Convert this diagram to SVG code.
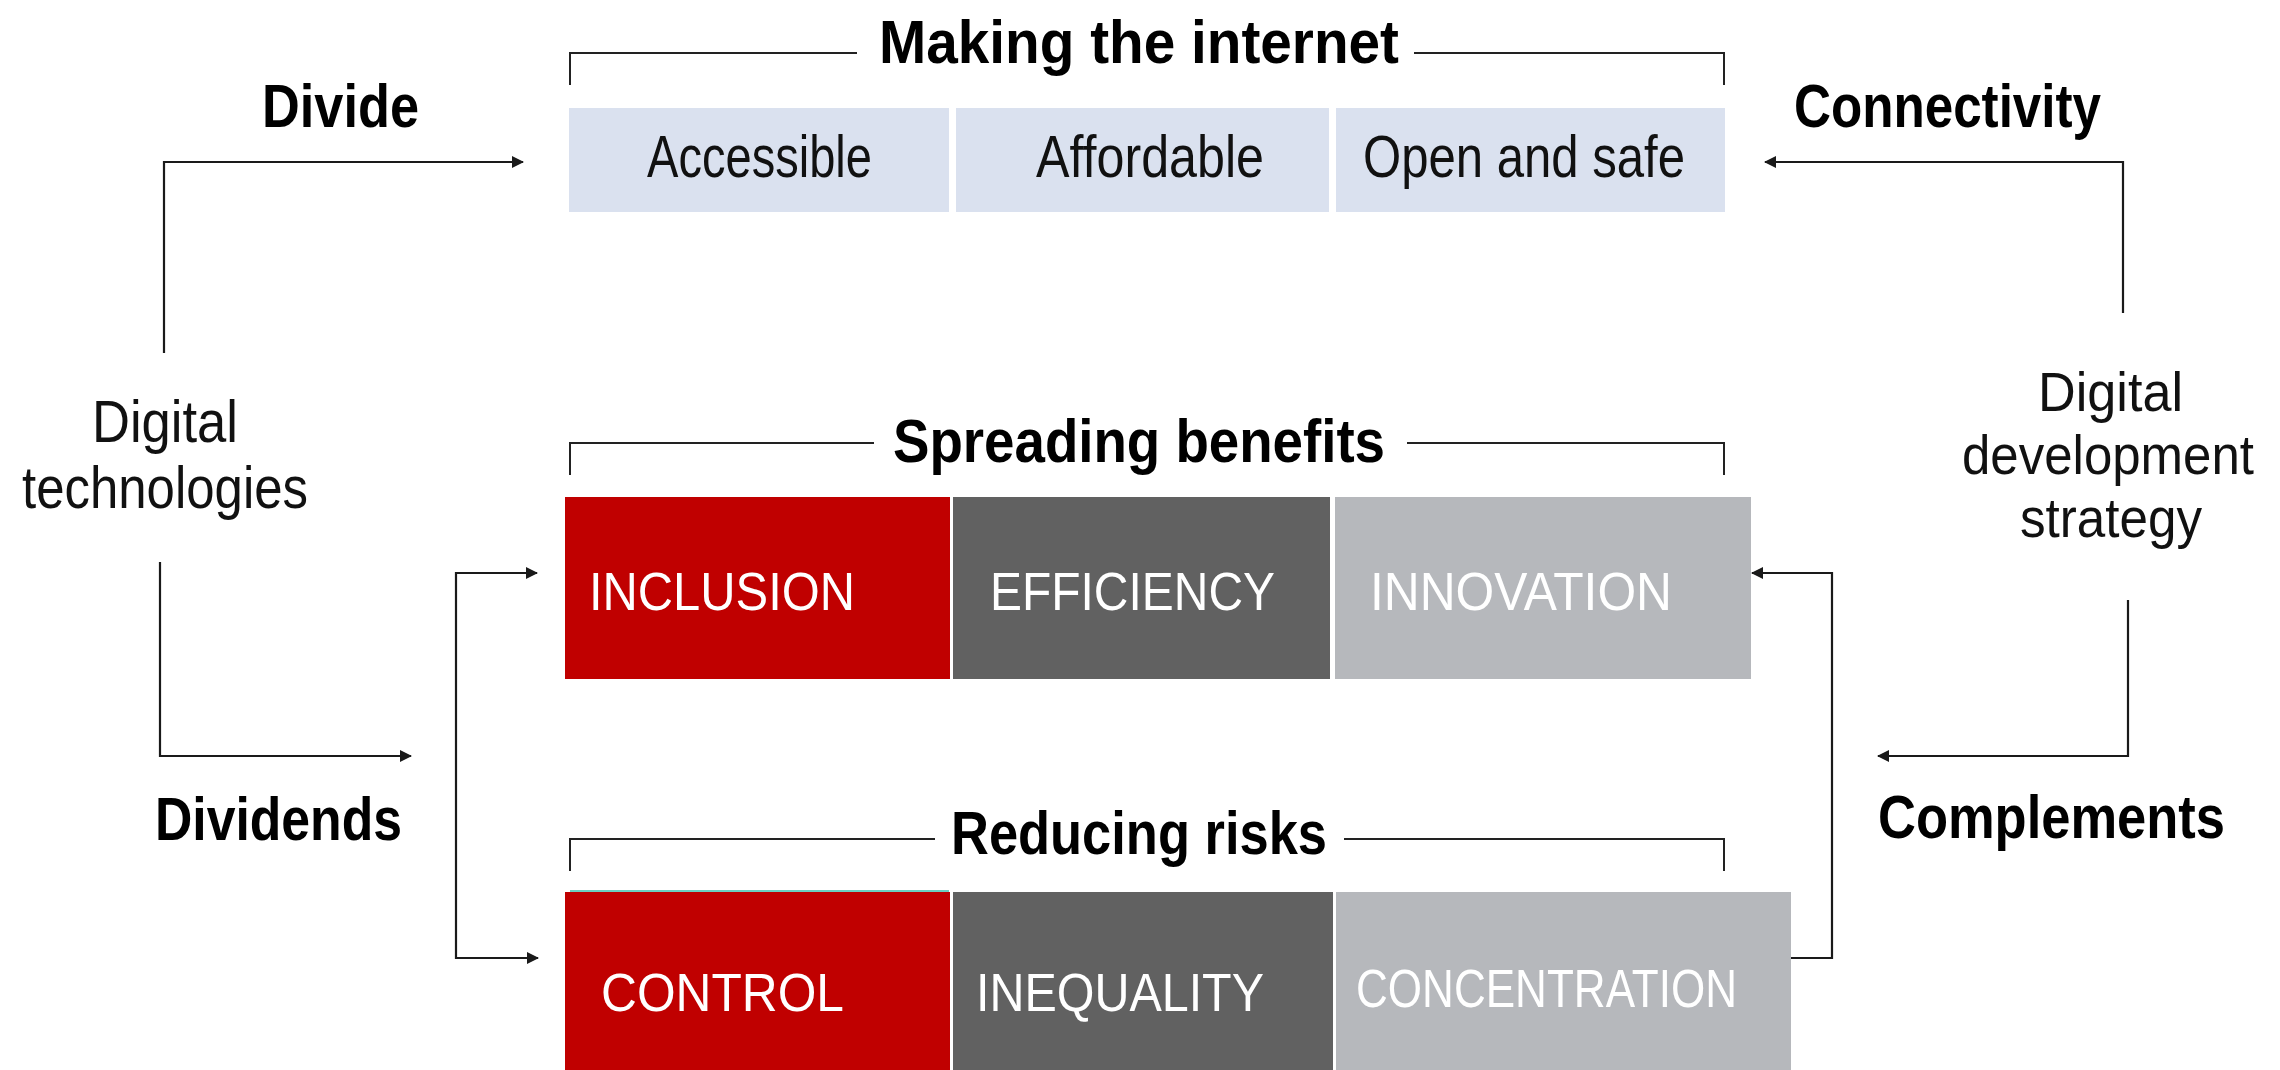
<svg xmlns="http://www.w3.org/2000/svg" width="2280" height="1070" viewBox="0 0 2280 1070">
<style>
.bold{font-family:"Liberation Sans",Arial,sans-serif;font-weight:bold;font-size:61px;fill:#000}
.reg{font-family:"Liberation Sans",Arial,sans-serif;font-size:60px;fill:#111}
.rs{font-family:"Liberation Sans",Arial,sans-serif;font-size:56px;fill:#111}
.wt{font-family:"Liberation Sans",Arial,sans-serif;font-size:53px;fill:#fff}
.blue{fill:#dae1ef}
.red{fill:#c00000}
.dark{fill:#616161}
.light{fill:#b6b8bc}
.line{fill:none;stroke:#1a1a1a;stroke-width:2.2}
.brk{fill:none;stroke:#222;stroke-width:2}
</style>
<defs>
<marker id="ah" viewBox="0 0 12 12" refX="11" refY="6" markerWidth="12" markerHeight="12" markerUnits="userSpaceOnUse" orient="auto-start-reverse">
<path d="M0,0 L12,6 L0,12 Z" fill="#1a1a1a"/>
</marker>
</defs>
<rect width="2280" height="1070" fill="#fff"/>

<g id="making-the-internet">
<path class="brk" d="M570,85 V53 H857 M1414,53 H1724 V85"/>
<text class="bold" x="879" y="63" textLength="520" lengthAdjust="spacingAndGlyphs">Making the internet</text>
</g>
<g id="accessible"><rect class="blue" x="569" y="108" width="380" height="104"/><text class="reg" x="647" y="177" textLength="225" lengthAdjust="spacingAndGlyphs">Accessible</text></g>
<g id="affordable"><rect class="blue" x="956" y="108" width="373" height="104"/><text class="reg" x="1036" y="177" textLength="228" lengthAdjust="spacingAndGlyphs">Affordable</text></g>
<g id="open-and-safe"><rect class="blue" x="1336" y="108" width="389" height="104"/><text class="reg" x="1363" y="177" textLength="322" lengthAdjust="spacingAndGlyphs">Open and safe</text></g>

<g id="spreading-benefits">
<path class="brk" d="M570,475 V443 H874 M1407,443 H1724 V475"/>
<text class="bold" x="893" y="462" textLength="492" lengthAdjust="spacingAndGlyphs">Spreading benefits</text>
</g>
<g id="inclusion"><rect class="red" x="565" y="497" width="385" height="182"/><text class="wt" x="589" y="610" textLength="266" lengthAdjust="spacingAndGlyphs">INCLUSION</text></g>
<g id="efficiency"><rect class="dark" x="953" y="497" width="377" height="182"/><text class="wt" x="990" y="610" textLength="285" lengthAdjust="spacingAndGlyphs">EFFICIENCY</text></g>
<g id="innovation"><rect class="light" x="1335" y="497" width="416" height="182"/><text class="wt" x="1370" y="610" textLength="302" lengthAdjust="spacingAndGlyphs">INNOVATION</text></g>

<g id="reducing-risks">
<path class="brk" d="M570,871 V839 H935 M1344,839 H1724 V871"/>
<text class="bold" x="951" y="854" textLength="376" lengthAdjust="spacingAndGlyphs">Reducing risks</text>
</g>
<g id="control"><rect class="red" x="565" y="892" width="385" height="178"/><rect x="570" y="890" width="379" height="2" fill="#6ccfc0"/><text class="wt" x="601" y="1011" font-size="54" textLength="243" lengthAdjust="spacingAndGlyphs">CONTROL</text></g>
<g id="inequality"><rect class="dark" x="953" y="892" width="380" height="178"/><text class="wt" x="976" y="1011" font-size="54" textLength="288" lengthAdjust="spacingAndGlyphs">INEQUALITY</text></g>
<g id="concentration"><rect class="light" x="1336" y="892" width="455" height="178"/><text class="wt" x="1356" y="1007" font-size="48" textLength="381" lengthAdjust="spacingAndGlyphs">CONCENTRATION</text></g>

<g id="digital-technologies">
<text class="reg" x="92" y="442" textLength="146" lengthAdjust="spacingAndGlyphs">Digital</text>
<text class="reg" x="22" y="508" textLength="286" lengthAdjust="spacingAndGlyphs">technologies</text>
</g>
<g id="digital-development-strategy">
<text class="rs" x="2038" y="411" textLength="145" lengthAdjust="spacingAndGlyphs">Digital</text>
<text class="rs" x="1962" y="474" textLength="292" lengthAdjust="spacingAndGlyphs">development</text>
<text class="rs" x="2020" y="537" textLength="182" lengthAdjust="spacingAndGlyphs">strategy</text>
</g>

<g id="connectors">
<path class="line" d="M164,353 V162 H523" marker-end="url(#ah)"/>
<path class="line" d="M2123,313 V162 H1765" marker-end="url(#ah)"/>
<path class="line" d="M160,562 V756 H411" marker-end="url(#ah)"/>
<path class="line" d="M537,573 H456 V958 H538" marker-start="url(#ah)" marker-end="url(#ah)"/>
<path class="line" d="M1791,958 H1832 V573 H1752" marker-end="url(#ah)"/>
<path class="line" d="M2128,600 V756 H1878" marker-end="url(#ah)"/>
<text class="bold" x="262" y="127" textLength="157" lengthAdjust="spacingAndGlyphs">Divide</text>
<text class="bold" x="1794" y="127" textLength="307" lengthAdjust="spacingAndGlyphs">Connectivity</text>
<text class="bold" x="155" y="840" textLength="247" lengthAdjust="spacingAndGlyphs">Dividends</text>
<text class="bold" x="1878" y="838" textLength="347" lengthAdjust="spacingAndGlyphs">Complements</text>
</g>
</svg>
